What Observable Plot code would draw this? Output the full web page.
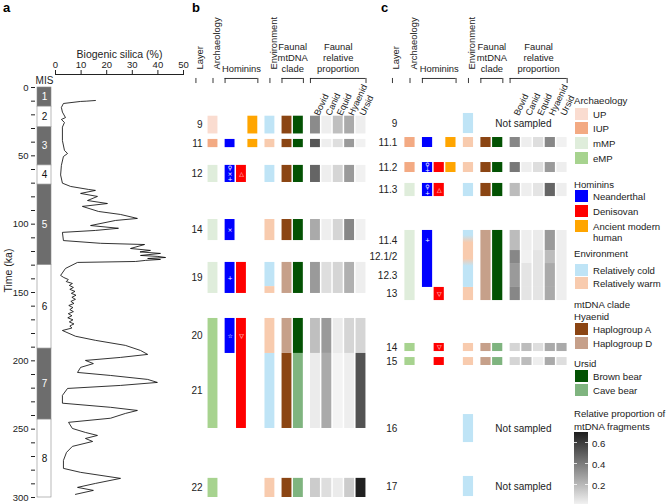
<!DOCTYPE html>
<html><head><meta charset="utf-8">
<script src="https://cdn.jsdelivr.net/npm/d3@7"></script>
<script src="https://cdn.jsdelivr.net/npm/@observablehq/plot@0.6"></script>
<style>
body{margin:0;background:#fff;font-family:"Liberation Sans",Arial,sans-serif;}
#fig{position:relative;width:668px;height:504px;overflow:hidden;background:#fff;}
#fig > svg{position:absolute;left:0;top:0;}
.lg{position:absolute;font-size:9.6px;color:#222;white-space:nowrap;line-height:11px;transform:translateY(-50%);}
.sw{position:absolute;left:575px;width:13px;}
.pl{position:absolute;font-weight:bold;font-size:13px;color:#000;}
</style></head><body><div id="fig"></div>
<script>
// ---------- Panel a data ----------
const misStage = [1,2,3,4,5,6,7,8];
const misStart = [0,14,29,57,71,130,191,243];
const misEnd   = [14,29,57,71,130,191,243,300];
const silicaAge = [9.5,10,10.2,11.7,14.6,18,22,23.4,25.6,29,
  38.8,46,48.3,50.5,57,64,70,72.4,74.6,75.3,
  77.5,79.7,82.7,84.9,87,90.7,92.9,95.8,97.3,101,
  103,104.6,106,112,114,114.9,117.8,119.2,120.3,121.4,
  122.9,123.6,124.4,125.1,125.8,126.5,127.3,128,132.4,137.5,
  139,140.5,142,143.4,144.8,146.3,147.7,149.2,150.6,152,
  153.5,155,156.5,158,159.5,161,162.5,164,165.5,167,
  168.5,170,171.5,173,174.5,176,177.8,182,185,188.7,
  192.4,195.3,197.5,199.7,202,204.8,208.5,210.7,213.6,215.8,
  218,220.2,225.3,231,234,236.3,238.5,242,245,249.5,
  252.4,254.6,256.8,259,262.6,267,272.9,278.7,281.6,286,
  289.7,292.6,294.8,297.7];
const silicaValue = [15.6,12,9.8,3.1,2.3,2.7,3.9,2.3,3.5,2.7,
  2.7,3.5,4.7,3.1,2.3,2,2.7,5.9,12.9,15.6,
  9.8,16.4,12.5,20.3,10.5,16.8,25.4,32,23.4,13.7,
  24.6,15.6,2.7,3.1,17.6,34.8,29.3,37.1,33,41,
  33.2,40,43,36,41,35.2,31.3,8.6,3.9,2,
  3.2,5,4.2,6.6,5.4,7,5.6,7.6,6.2,8,
  6.4,7.8,6,7.2,5.2,6.8,5.6,7,5,6.4,
  4.8,6.8,5.4,7.2,5.6,6.4,2.7,7.8,15.6,27.3,
  33.2,36,25.4,11.7,14.8,9.8,8.6,21.5,36,39.8,
  25.4,4.7,2.7,2.7,21.5,32,27.3,21.5,5.1,6.6,
  11.7,16.4,11.7,14.5,6.6,4.3,3.1,3.1,9.8,25.4,
  15.6,8.6,14.8,7.8];
const silicaTicks = [0,10,20,30,40,50];

// ---------- Panel b data ----------
const layersB = ["9","11","12","14","19","20","21","22"];
const topB    = [21,38,57,96.6,128,169,194.6,286];
const bottomB = [34,44,69.5,112,150.7,194.6,249.5,300];
const archB = [["9","9","UP"],["11","11","IUP"],["12","12","mMP"],["14","14","mMP"],["19","19","mMP"],["20","21","eMP"],["22","22","eMP"]];
const hominB = [["11","11","Neanderthal"],["12","12","Neanderthal"],["14","14","Neanderthal"],["19","19","Neanderthal"],["20","20","Neanderthal"],
                ["12","12","Denisovan"],["19","19","Denisovan"],["20","21","Denisovan"],
                ["9","9","Ancient modern human"],["11","11","Ancient modern human"]];
const envB = [["9","9","cold"],["11","11","warm"],["12","12","cold"],["14","14","warm"],["19","19","cold",0,0.78],["19","19","warm",0.78,1],["20","20","warm"],["21","21","cold"],["22","22","warm"]];
const hyaCladeB = [["9","9","A"],["11","11","A"],["12","12","A"],["14","14","A"],["19","19","D"],["20","20","D"],["21","21","A"],["22","22","A"]];
const ursCladeB = [["9","9","Brown"],["11","11","Brown"],["12","12","Brown"],["14","14","Brown"],["19","19","Brown"],["20","20","Brown"],["21","21","Cave"],["22","22","Cave"]];
const symbolsB = [["12","Neanderthal","♀\n×\n+"],["12","Denisovan","△"],["14","Neanderthal","×"],["19","Neanderthal","+"],["20","Neanderthal","☆"],["20","Denisovan","▽"]];
const propLayersB = ["9","11","12","14","19","20","21","22"];
const bovidB   = [0.35,0.52,0.47,0.25,0.30,0.18,0.04,0.14];
const canidB   = [0.03,0.03,0.03,0.03,0.08,0.30,0.25,0.08];
const equidB   = [0.18,0.08,0.11,0.11,0.11,0.04,0.01,0.04];
const hyaenidB = [0.25,0.30,0.30,0.36,0.23,0.11,0.03,0.14];
const ursidB   = [0.03,0.02,0.02,0.02,0.03,0.11,0.53,0.69];

// ---------- Panel c data ----------
const layersC = ["9","11.1","11.2","11.3","11.4","12.1/2","12.3","13","14","15","16","17"];
const topC    = [19,36.6,54.9,70.2,104.6,119.3,128.8,146.3,187.3,197.6,239.3,284.6];
const bottomC = [33.7,43.9,62.2,79.8,119.3,128.8,146.3,155.9,193.2,203.4,259.8,299.3];
const archC = [["11.1","11.1","IUP"],["11.2","11.2","IUP"],["11.3","11.3","mMP"],["11.4","13","mMP"],["14","14","eMP"],["15","15","eMP"]];
const hominC = [["11.1","11.1","Neanderthal"],["11.2","11.2","Neanderthal"],["11.3","11.3","Neanderthal"],["11.4","12.3","Neanderthal"],
                ["11.2","11.2","Denisovan"],["11.3","11.3","Denisovan"],["13","13","Denisovan"],["14","14","Denisovan"],["15","15","Denisovan"],
                ["11.1","11.1","Ancient modern human"],["11.2","11.2","Ancient modern human"]];
const envC = [["9","9","cold"],["11.1","11.1","warm"],["11.2","11.2","warm"],["11.3","11.3","cold"],["13","13","warm"],["14","14","warm"],["15","15","warm"],["16","16","cold"],["17","17","cold"]];
const envGradientC = {from:"11.4", to:"12.3", stops:[[0,"cold"],[0.09,"cold"],[0.22,"warm"],[0.5,"warm"],[0.63,"cold"],[1,"cold"]]};
const hyaCladeC = [["11.1","11.1","A"],["11.2","11.2","A"],["11.3","11.3","A"],["11.4","13","D"],["14","14","D"],["15","15","D"]];
const ursCladeC = [["11.1","11.1","Brown"],["11.2","11.2","Brown"],["11.3","11.3","Brown"],["11.4","13","Brown"],["14","14","Cave"],["15","15","Cave"]];
const symbolsC = [["11.2","Neanderthal","♀\n+"],["11.3","Neanderthal","♀\n+"],["11.3","Denisovan","△"],["11.4","Neanderthal","+"],["13","Denisovan","▽"],["14","Denisovan","▽"]];
const notSampledC = ["9","16","17"];
const propLayersC = ["11.1","11.2","11.3","11.4","12.1/2","12.3","13","14","15"];
const bovidC   = [0.36,0.41,0.19,0.19,0.36,0.30,0.36,0.11,0.11];
const canidC   = [0.03,0.03,0.03,0.03,0.02,0.06,0.06,0.19,0.19];
const equidC   = [0.08,0.08,0.06,0.04,0.06,0.06,0.06,0.08,0.03];
const hyaenidC = [0.36,0.30,0.47,0.30,0.19,0.25,0.25,0.25,0.25];
const ursidC   = [0.02,0.03,0.03,0.03,0.03,0.03,0.03,0.25,0.08];

// ---------- shared structure ----------
const taxa = ["Bovid","Canid","Equid","Hyaenid","Ursid"];
const colNames = ["Layer","Archaeology","Neanderthal","Denisovan","Ancient modern human","Environment","Hyaenid clade","Ursid clade","Bovid","Canid","Equid","Hyaenid","Ursid"];
const colGroups = [0,1,2,2,2,3,4,4,5,5,5,5,5];
const colPos = Object.fromEntries(colNames.map((c,i)=>[c,(i-1)+0.5*(colGroups[i]-1)]));
const palette = {UP:"#fadcd0", IUP:"#f3aa83", mMP:"#dfeddb", eMP:"#a7d38f",
  "Neanderthal":"#0000ff","Denisovan":"#ff0000","Ancient modern human":"#ffa500",
  cold:"#bfe4f6", warm:"#f8cbae", A:"#8b4513", D:"#c6a08a", Brown:"#035203", Cave:"#7fb47f"};
const propDomain = [0,0.7];
const propRange = ["#f7f7f7","#1e1e1e"];
const FONT = '"Liberation Sans", Arial, sans-serif';
const AGE = {domain:[0,300], range:[87,497]};
const HB = {top:-6.6, bottom:-2.9};   // header bracket band just above the rows
const baseStyle = `background:transparent;overflow:visible;max-width:none;font-family:${FONT};font-size:9.5px;color:#222;`;
const fig = document.getElementById("fig");

// ---------- Panel a ----------
const mis = misStage.map((s,i)=>({s, y1:misStart[i], y2:misEnd[i], mid:(misStart[i]+misEnd[i])/2}));
fig.append(Plot.plot({
  width:668, height:504, marginLeft:35, marginTop:0, marginRight:0, marginBottom:0,
  style: baseStyle,
  x:{domain:[0,1], range:[37,51], axis:null},
  y:{...AGE, ticks:d3.range(0,301,10), tickFormat:d=>d%50===0?d:"", tickSize:4, tickPadding:3, label:null},
  marks:[
    Plot.rect(mis.filter(d=>d.s%2===1), {x1:0,x2:1,y1:"y1",y2:"y2",fill:"#6d6d6d",stroke:"#8a8a8a",strokeWidth:0.6}),
    Plot.rect(mis.filter(d=>d.s%2===0), {x1:0,x2:1,y1:"y1",y2:"y2",fill:"#fff",stroke:"#8a8a8a",strokeWidth:0.6}),
    Plot.text(mis.filter(d=>d.s%2===1), {x:0.5,y:"mid",text:"s",fill:"#fff",fontSize:10}),
    Plot.text(mis.filter(d=>d.s%2===0), {x:0.5,y:"mid",text:"s",fill:"#111",fontSize:10}),
    Plot.text(["MIS"], {x:0.5,y:0,dy:-7,text:d=>d,fontSize:10}),
    Plot.text(["Time (ka)"], {y:150, frameAnchor:"left", dx:-27, rotate:-90, text:d=>d, fontSize:10.5})
  ]
}));
const silica = silicaAge.map((t,i)=>({t, v:silicaValue[i]}));
fig.append(Plot.plot({
  width:668, height:504, marginLeft:55, marginRight:485, marginTop:74, marginBottom:0,
  style: baseStyle,
  x:{domain:[0,50], range:[55,183], axis:"top", ticks:silicaTicks, tickSize:5, tickPadding:2, line:true, label:null},
  y:{...AGE, axis:null},
  marks:[
    Plot.line(silica, {x:"v", y:"t", stroke:"#000", strokeWidth:0.8}),
    Plot.text(["Biogenic silica (%)"], {frameAnchor:"top", dy:-24, text:d=>d, fontSize:10.5})
  ]
}));

// ---------- Panels b and c ----------
function panel(P){
  const row = {}; P.layers.forEach((l,i)=>row[l]=[P.tops[i],P.bottoms[i]]);
  const mid = l => (row[l][0]+row[l][1])/2;
  const seg = col => s => { const [from,to,cat,f0=0,f1=1]=s; const a=row[from][0], b=row[to][1];
    return {col: col ?? cat, cat, y1:a+(b-a)*f0, y2:a+(b-a)*f1}; };
  const cells = [...P.arch.map(seg("Archaeology")), ...P.homin.map(seg(null)), ...P.env.map(seg("Environment")),
                 ...P.hya.map(seg("Hyaenid clade")), ...P.urs.map(seg("Ursid clade"))];
  const props = [];
  P.propLayers.forEach((l,i)=>taxa.forEach((t,j)=>props.push({col:t, y1:row[l][0], y2:row[l][1], p:P.props[j][i]})));
  const cx1 = d=>colPos[d.col]-0.5, cx2 = d=>colPos[d.col]+0.5;
  const cellOpt = {x1:cx1, x2:cx2, y1:"y1", y2:"y2", insetLeft:0.75, insetRight:0.75};
  const marks = [];
  for (const k of Object.keys(palette)) {
    const sub = cells.filter(d=>d.cat===k);
    if (sub.length) marks.push(Plot.rect(sub, {...cellOpt, fill:palette[k]}));
  }
  let gradId = null;
  if (P.grad) {
    gradId = "envgrad" + P.id;
    marks.push(Plot.rect([{col:"Environment", y1:row[P.grad.from][0], y2:row[P.grad.to][1]}], {...cellOpt, fill:`url(#${gradId})`}));
  }
  marks.push(Plot.rect(props, {...cellOpt, fill:"p"}));
  marks.push(Plot.text(P.layers, {x:colPos["Layer"]+0.5, y:mid, text:d=>d, textAnchor:"end", dx:P.labelDx, fontSize:10}));
  marks.push(Plot.text(P.symbols, {x:d=>colPos[d[1]], y:d=>mid(d[0]), text:d=>d[2], fill:"#fff", fontSize:6, lineHeight:0.92, fontFamily:"DejaVu Sans"}));
  if (P.notSampled) marks.push(Plot.text(P.notSampled, {x:colPos["Canid"]-0.3, y:mid, text:()=>"Not sampled", fontSize:10}));
  const rotHeaders = ["Layer","Archaeology","Environment"];
  marks.push(Plot.text(rotHeaders, {x:d=>colPos[d], frameAnchor:"top", dy:69, rotate:-90, textAnchor:"start", text:d=>d, fontSize:9.4}));
  marks.push(Plot.ruleX(rotHeaders, {x:d=>colPos[d], y1:HB.top, y2:HB.bottom, stroke:"#222", strokeWidth:0.9}));
  const groups = [{from:"Neanderthal",to:"Ancient modern human",text:"Hominins"},{from:"Hyaenid clade",to:"Ursid clade",text:"Faunal\nmtDNA\nclade"},{from:"Bovid",to:"Ursid",text:"Faunal\nrelative\nproportion"}];
  marks.push(Plot.text(groups, {x:d=>(colPos[d.from]+colPos[d.to])/2, frameAnchor:"top", dy:71, lineAnchor:"bottom", text:"text", lineHeight:1.15, fontSize:9.4}));
  marks.push(Plot.ruleY(groups, {y:HB.top, x1:d=>colPos[d.from]-0.44, x2:d=>colPos[d.to]+0.44, stroke:"#222", strokeWidth:0.9}));
  const ends = groups.flatMap(g=>[colPos[g.from]-0.44, colPos[g.to]+0.44]);
  marks.push(Plot.ruleX(ends, {x:d=>d, y1:HB.top, y2:HB.bottom, stroke:"#222", strokeWidth:0.9}));
  marks.push(Plot.text(taxa, {x:d=>colPos[d], frameAnchor:"top", dy:113, dx:-2, rotate:-65, textAnchor:"start", text:d=>d, fontSize:9}));
  const svg = Plot.plot({
    width:668, height:504, margin:0, style:baseStyle,
    x:{domain:[0,13], range:P.xRange, axis:null},
    y:{...AGE, axis:null},
    color:{type:"linear", domain:propDomain, range:propRange, clamp:true},
    marks
  });
  if (P.grad) {
    const ns = "http://www.w3.org/2000/svg";
    const defs = document.createElementNS(ns,"defs");
    const lg = document.createElementNS(ns,"linearGradient");
    lg.setAttribute("id", gradId); lg.setAttribute("x1","0"); lg.setAttribute("y1","0"); lg.setAttribute("x2","0"); lg.setAttribute("y2","1");
    for (const [o,c] of P.grad.stops) { const st=document.createElementNS(ns,"stop"); st.setAttribute("offset",o); st.setAttribute("stop-color",palette[c]); lg.append(st); }
    defs.append(lg); svg.insertBefore(defs, svg.firstChild);
  }
  return svg;
}
fig.append(panel({id:"b", layers:layersB, tops:topB, bottoms:bottomB, arch:archB, homin:hominB, env:envB, hya:hyaCladeB, urs:ursCladeB,
  symbols:symbolsB, propLayers:propLayersB, props:[bovidB,canidB,equidB,hyaenidB,ursidB], xRange:[212.5,360.5], labelDx:1}));
fig.append(panel({id:"c", layers:layersC, tops:topC, bottoms:bottomC, arch:archC, homin:hominC, env:envC, hya:hyaCladeC, urs:ursCladeC,
  symbols:symbolsC, propLayers:propLayersC, props:[bovidC,canidC,equidC,hyaenidC,ursidC], xRange:[409.5,561.5], labelDx:-1,
  notSampled:notSampledC, grad:envGradientC}));

// ---------- panel letters ----------
[["a",3,0],["b",192,0],["c",381,0]].forEach(([t,x,y])=>{const d=document.createElement("div");d.className="pl";d.style.left=x+"px";d.style.top=y+"px";d.textContent=t;fig.append(d);});

// ---------- legend ----------
const legendTitles = [["Archaeology",100],["Hominins",184],["Environment",253],["mtDNA clade",304],["Hyaenid",316],["Ursid",363],["Relative proportion of",413],["mtDNA fragments",426]];
const legendItems = [["UP","UP",108],["IUP","IUP",122],["mMP","mMP",137],["eMP","eMP",152],
  ["Neanderthal","Neanderthal",190],["Denisovan","Denisovan",205],["Ancient modern human","Ancient modern\nhuman",220],
  ["cold","Relatively cold",264],["warm","Relatively warm",277],["A","Haplogroup A",323],["D","Haplogroup D",337],
  ["Brown","Brown bear",370],["Cave","Cave bear",384]];
for (const [t,y] of legendTitles){const d=document.createElement("div");d.className="lg";d.style.left="574px";d.style.top=y+"px";d.textContent=t;fig.append(d);}
for (const [k,t,y] of legendItems){
  const s=document.createElement("div");s.className="sw";s.style.top=y+"px";s.style.height="11.5px";s.style.background=palette[k];fig.append(s);
  const lines=t.split("\n");
  lines.forEach((ln,i)=>{const d=document.createElement("div");d.className="lg";d.style.left="593px";d.style.top=(y+5.5+i*11)+"px";d.textContent=ln;fig.append(d);});
}
const pc = d3.scaleLinear(propDomain, propRange).interpolate(d3.interpolateRgb);
const rampTop = 432, pxPerUnit = 105;
const ramp = document.createElement("div");
ramp.style.cssText = `position:absolute;left:574px;top:${rampTop}px;width:14px;height:${0.7*pxPerUnit}px;background:linear-gradient(to bottom, ${pc(0.7)}, ${pc(0.35)}, ${pc(0)});`;
fig.append(ramp);
for (const v of [0.2,0.4,0.6]) {
  const y = rampTop + (0.7-v)*pxPerUnit;
  for (const x of [574,585]) {const t=document.createElement("div");t.style.cssText=`position:absolute;left:${x}px;top:${y-0.5}px;width:3px;height:1px;background:#fff;opacity:.8`;fig.append(t);}
  const d=document.createElement("div");d.className="lg";d.style.left="592px";d.style.top=y+"px";d.textContent=v.toFixed(1);fig.append(d);
}
</script></body></html>
